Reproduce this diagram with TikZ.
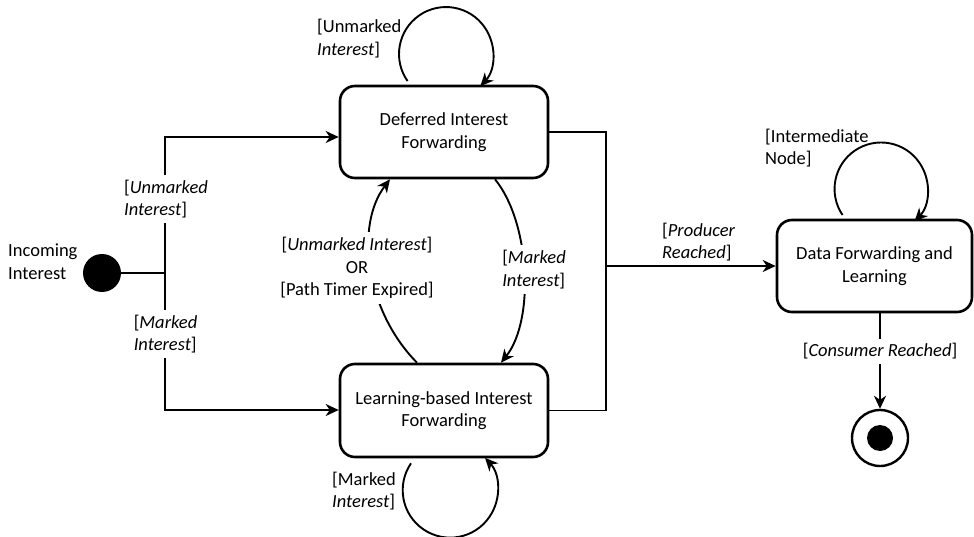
\documentclass[tikz,border=0pt]{standalone}
\usepackage{fontspec}
\setmainfont{Carlito}
\usetikzlibrary{arrows.meta,calc}
\begin{document}
\begin{tikzpicture}[x=1pt,y=-1pt,
  every node/.style={font=\fontsize{18.5}{22.5}\selectfont},
  state/.style={draw, line width=2.6pt, rounded corners=15pt, align=center, inner sep=0pt},
  conn/.style={line width=1.9pt},
  arr/.style={conn, -{Stealth[length=13pt,width=12pt,inset=4pt]}},
  lbl/.style={fill=white, inner xsep=2pt, inner ysep=5pt, align=left},
  txt/.style={align=left, inner sep=0pt},
]
\useasboundingbox (0,0) rectangle (974,537);

% states
\node[state, minimum width=208pt, minimum height=92pt] (def) at (444,132) {Deferred Interest\\Forwarding};
\node[state, minimum width=208pt, minimum height=93pt] (learn) at (444,410.5) {Learning-based Interest\\Forwarding};
\node[state, minimum width=195pt, minimum height=92pt] (data) at (874.5,266) {Data Forwarding and\\Learning};

% initial / final
\node[circle, fill=black, minimum size=38pt, inner sep=0pt] (init) at (102,273) {};
\node[circle, draw, line width=2.4pt, minimum size=56pt, inner sep=0pt] (final) at (880,438) {};
\node[circle, fill=black, minimum size=26pt, inner sep=0pt] (finaldot) at (final.center) {};

\node[txt, anchor=west] (inc) at (8,261.5) {Incoming\\Interest};

% fork
\coordinate (fork) at (165,273);
\coordinate (ftop) at (165,137);
\coordinate (fbot) at (165,410);
\draw[conn] (init) -- (fork);
\draw[arr] (fork) -- (ftop) -- (ftop -| def.west);
\draw[arr] (fork) -- (fbot) -- (fbot -| learn.west);
\node[lbl] (l1) at (166,199) {[\textit{Unmarked}\\\textit{Interest}]};
\node[lbl] (l2) at (165.5,334) {[\textit{Marked}\\\textit{Interest}]};

% self loops (arc angles in canvas orientation, y up)
\draw[arr] ([xshift=-36.5pt, yshift=3.7pt]def.north) arc[start angle=215, end angle=-43, radius=47pt];
\node[txt, anchor=west] (l3) at (317,38.5) {[Unmarked\\\textit{Interest}]};

\draw[arr] ([xshift=-33pt, yshift=-5pt]learn.south) arc[start angle=145.6, end angle=402.8, radius=47.5pt];
\node[txt, anchor=west] (l4) at (332,491) {[Marked\\\textit{Interest}]};

\draw[arr] ([xshift=-32pt, yshift=3.7pt]data.north) arc[start angle=214, end angle=-44, radius=46.5pt];
\node[txt, anchor=west] (l5) at (765,148) {[Intermediate\\Node]};

% between the two forwarding states
\draw[arr] ([xshift=-27pt]learn.north) .. controls (365,310) and (355,225) .. ([xshift=-54pt]def.south);
\node[lbl, align=center] (l6) at (357,268) {[\textit{Unmarked Interest}]\\OR\\{[}Path Timer Expired]};

\draw[arr] ([xshift=51pt]def.south) .. controls (530,222) and (535,320) .. ([xshift=57pt]learn.north);
\node[lbl] (l7) at (534,269.5) {[\textit{Marked}\\\textit{Interest}]};

% producer reached
\coordinate (bus) at (606,266);
\draw[conn] (def.east) -| (bus) |- (learn.east);
\draw[arr] (bus) -- (data.west);
\node[txt, anchor=west] (l8) at (662,242) {[\textit{Producer}\\\textit{Reached}]};

% consumer reached
\draw[arr] (final.north |- data.south) -- node[lbl, pos=0.4] (l9) {[\textit{Consumer Reached}]} (final.north);
\end{tikzpicture}
\end{document}
